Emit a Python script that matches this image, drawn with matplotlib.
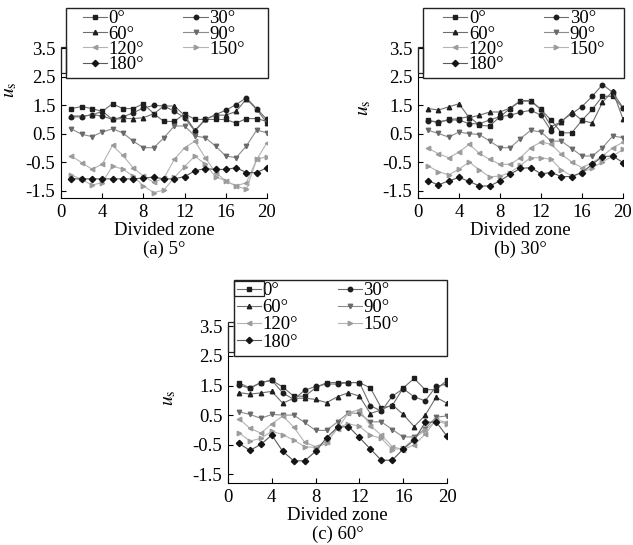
import numpy as np
import matplotlib
matplotlib.use("Agg")
import matplotlib.pyplot as plt
from matplotlib.patches import Rectangle

plt.rcParams["font.family"] = ["Liberation Serif", "DejaVu Serif"]
plt.rcParams["mathtext.fontset"] = "stix"

# ── data ──────────────────────────────────────────────────────────────
zones = list(range(1, 21))
angles = ["0°", "30°", "60°", "90°", "120°", "150°", "180°"]

# (a) 5°
a_0   = [1.38, 1.45, 1.38, 1.28, 1.55, 1.38, 1.38, 1.55, 1.20, 0.93, 0.93, 1.20, 1.00, 1.00, 1.00, 1.00, 0.87, 1.03, 1.03, 0.93]
a_30  = [1.09, 1.09, 1.17, 1.12, 1.00, 1.09, 1.23, 1.40, 1.49, 1.47, 1.29, 1.06, 0.59, 1.00, 1.17, 1.32, 1.52, 1.76, 1.37, 1.00]
a_60  = [1.12, 1.12, 1.15, 1.29, 1.00, 1.03, 1.03, 1.06, 1.20, 1.47, 1.47, 1.14, 0.62, 1.00, 1.15, 1.15, 1.28, 1.72, 1.35, 0.88]
a_90  = [0.67, 0.48, 0.40, 0.56, 0.67, 0.53, 0.24, 0.01, 0.01, 0.36, 0.77, 0.77, 0.42, 0.36, 0.07, -0.28, -0.34, 0.07, 0.63, 0.53]
a_120 = [-0.28, -0.51, -0.74, -0.57, 0.09, -0.26, -0.69, -0.98, -1.20, -1.05, -0.40, 0.01, 0.24, -0.34, -0.86, -1.15, -1.33, -1.21, -0.40, 0.19]
a_150 = [-0.95, -1.09, -1.30, -1.21, -0.63, -0.74, -0.98, -1.33, -1.56, -1.47, -1.03, -0.65, -0.28, -0.57, -1.00, -1.15, -1.33, -1.44, -0.40, -0.30]
a_180 = [-1.08, -1.08, -1.08, -1.08, -1.08, -1.08, -1.08, -1.05, -1.02, -1.08, -1.08, -1.00, -0.80, -0.72, -0.75, -0.75, -0.69, -0.86, -0.86, -0.69]

# (b) 30°
b_0   = [0.97, 0.88, 1.00, 1.03, 1.10, 0.79, 0.77, 1.10, 1.38, 1.64, 1.64, 1.35, 0.97, 0.53, 0.53, 0.97, 1.35, 1.81, 1.81, 1.40]
b_30  = [0.95, 0.92, 0.98, 0.98, 0.85, 0.85, 0.98, 1.10, 1.15, 1.25, 1.32, 1.15, 0.60, 0.95, 1.20, 1.45, 1.81, 2.22, 1.95, 1.41]
b_60  = [1.38, 1.33, 1.44, 1.55, 1.06, 1.15, 1.26, 1.26, 1.40, 1.66, 1.66, 1.35, 0.75, 0.92, 1.26, 0.97, 0.87, 1.60, 1.99, 1.02]
b_90  = [0.62, 0.51, 0.38, 0.56, 0.50, 0.47, 0.24, 0.01, 0.01, 0.33, 0.62, 0.56, 0.24, 0.24, -0.02, -0.28, -0.28, 0.01, 0.42, 0.36]
b_120 = [-0.01, -0.20, -0.34, -0.14, 0.13, -0.19, -0.40, -0.57, -0.57, -0.34, 0.01, 0.21, 0.13, -0.22, -0.49, -0.69, -0.51, -0.28, 0.01, 0.20]
b_150 = [-0.63, -0.83, -0.94, -0.74, -0.49, -0.77, -1.01, -0.98, -0.86, -0.60, -0.34, -0.34, -0.40, -0.77, -0.98, -0.86, -0.69, -0.49, -0.28, -0.05]
b_180 = [-1.15, -1.29, -1.15, -1.03, -1.17, -1.33, -1.33, -1.15, -0.92, -0.71, -0.69, -0.90, -0.86, -1.00, -1.00, -0.86, -0.57, -0.30, -0.28, -0.51]

# (c) 60°
c_0   = [1.59, 1.42, 1.60, 1.68, 1.45, 1.14, 1.14, 1.42, 1.60, 1.60, 1.60, 1.60, 1.42, 0.74, 0.82, 1.42, 1.74, 1.36, 1.36, 1.68]
c_30  = [1.52, 1.40, 1.60, 1.68, 1.25, 1.03, 1.34, 1.47, 1.55, 1.55, 1.60, 1.60, 0.82, 0.63, 1.14, 1.39, 1.12, 0.98, 1.47, 1.55]
c_60  = [1.26, 1.21, 1.25, 1.30, 0.90, 1.07, 1.07, 1.03, 0.92, 1.12, 1.26, 1.14, 0.55, 0.68, 0.85, 0.52, 0.11, 0.49, 1.10, 0.90]
c_90  = [0.61, 0.52, 0.39, 0.52, 0.50, 0.50, 0.25, -0.02, -0.02, 0.27, 0.58, 0.55, 0.27, 0.27, 0.01, -0.24, -0.24, 0.03, 0.43, 0.47]
c_120 = [0.38, 0.05, -0.11, 0.20, 0.47, 0.09, -0.42, -0.57, -0.40, 0.03, 0.58, 0.68, 0.14, -0.18, -0.57, -0.67, -0.51, -0.15, 0.34, 0.25]
c_150 = [-0.10, -0.38, -0.29, -0.05, -0.16, -0.35, -0.57, -0.60, -0.46, 0.09, 0.20, 0.12, -0.18, -0.29, -0.67, -0.62, -0.29, -0.02, 0.30, 0.20]
c_180 = [-0.46, -0.70, -0.49, -0.18, -0.73, -1.05, -1.05, -0.73, -0.27, 0.09, 0.11, -0.26, -0.65, -1.03, -1.03, -0.65, -0.35, 0.25, 0.27, -0.22]

panels = [
    ("(a) 5°",  [a_0, a_30, a_60, a_90, a_120, a_150, a_180]),
    ("(b) 30°", [b_0, b_30, b_60, b_90, b_120, b_150, b_180]),
    ("(c) 60°", [c_0, c_30, c_60, c_90, c_120, c_150, c_180]),
]

markers   = ["s", "o", "^", "v", "<", ">", "D"]
line_cols = ["#6e6e6e", "#6e6e6e", "#6e6e6e", "#8c8c8c", "#b4b4b4", "#b4b4b4", "#5a5a5a"]
mk_cols   = ["#1e1e1e", "#1e1e1e", "#1e1e1e", "#6a6a6a", "#9c9c9c", "#9c9c9c", "#141414"]

# layout per panel (pixel-matched to the reference)
rects = [
    (0.0964, 0.6367, 0.3254, 0.2752),
    (0.6603, 0.6367, 0.3239, 0.2752),
    (0.3602, 0.1138, 0.3460, 0.2899),
]
ylims     = [(-1.75, 3.5), (-1.75, 3.5), (-1.80, 3.55)]
ylab_pos  = [(-0.205, 0.72), (-0.22, 0.60), (-0.23, 0.54)]
cap_y     = [-0.345, -0.345, -0.325]
# legend box (x0, y0, x1, y1) and bracket top, axes coords
leg_box   = [(0.024, 0.80, 1.005, 1.267), (0.024, 0.80, 1.005, 1.267), (0.027, 0.804, 1.0, 1.285)]
leg_anchor = [(0.105, 1.252), (0.122, 1.252), (0.04, 1.272)]
leg_rowsp = [-0.1, -0.1, 0.0]
brk_y     = [(0.833, 1.007), (0.833, 1.007), (0.83, 1.02)]

fig = plt.figure(figsize=(6.33, 5.45), dpi=100)
first_leg = None

for k, ((caption, series), rect) in enumerate(zip(panels, rects)):
    ax = fig.add_axes(rect)
    handles = []
    for vals, mk, lc, mc, lab in zip(series, markers, line_cols, mk_cols, angles):
        h, = ax.plot(zones, vals, color=lc, lw=0.8, marker=mk, ms=3.2,
                     mfc=mc, mec=mc, label=lab)
        handles.append(h)

    ax.set_xlim(0, 20)
    ax.set_ylim(*ylims[k])
    ax.set_xticks([0, 4, 8, 12, 16, 20])
    ax.set_yticks([-1.5, -0.5, 0.5, 1.5, 2.5, 3.5])
    ax.set_yticklabels(["-1.5", "-0.5", "0.5", "1.5", "2.5", "3.5"])
    ax.tick_params(direction="in", length=3.5, labelsize=13.5, width=0.8)
    ax.tick_params(axis="x", pad=4)
    ax.tick_params(axis="y", pad=4)
    ax.spines["right"].set_visible(False)
    ax.spines["top"].set_visible(False)
    ax.set_xlabel("Divided zone", fontsize=13.5, labelpad=1)
    ax.set_ylabel(r"$u_{\rm s}$", fontsize=14, rotation=90)
    ax.yaxis.set_label_coords(*ylab_pos[k])
    ax.text(0.5, cap_y[k], caption, transform=ax.transAxes,
            ha="center", va="center", fontsize=13.5)

    # legend frame + small bracket joining it to the y spine
    x0, y0, x1, y1 = leg_box[k]
    ax.add_patch(Rectangle((x0, y0), x1 - x0, y1 - y0, transform=ax.transAxes,
                           fc="white", ec="#222222", lw=1.0, clip_on=False, zorder=4))
    by0, by1 = brk_y[k]
    ax.add_patch(Rectangle((0, by0), x0, by1 - by0, transform=ax.transAxes,
                           fill=False, ec="#222222", lw=0.9, clip_on=False, zorder=4))

    order = [0, 2, 4, 6, 1, 3, 5]
    leg = ax.legend([handles[i] for i in order], [angles[i] for i in order],
                    ncol=2, loc="upper left", bbox_to_anchor=leg_anchor[k],
                    fontsize=13.5, frameon=False, handlelength=1.3,
                    handletextpad=0.08, labelspacing=leg_rowsp[k], borderpad=0,
                    columnspacing=2.1, borderaxespad=0)
    leg.set_zorder(5)
    if k == 2:
        first_leg = leg

# box drawn round the first legend key of panel (c), as in the reference
fig.canvas.draw()
hb = first_leg.legend_handles[0].get_window_extent(fig.canvas.get_renderer())
inv = fig.transFigure.inverted()
(fx0, fy0), (fx1, fy1) = inv.transform([(hb.x0 - 1, hb.y0 - 5), (hb.x1 + 1, hb.y1 + 5)])
fig.add_artist(Rectangle((fx0, fy0), fx1 - fx0, fy1 - fy0, transform=fig.transFigure,
                         fill=False, ec="#222222", lw=0.9, zorder=6))

fig.savefig("out.png", dpi=100)
